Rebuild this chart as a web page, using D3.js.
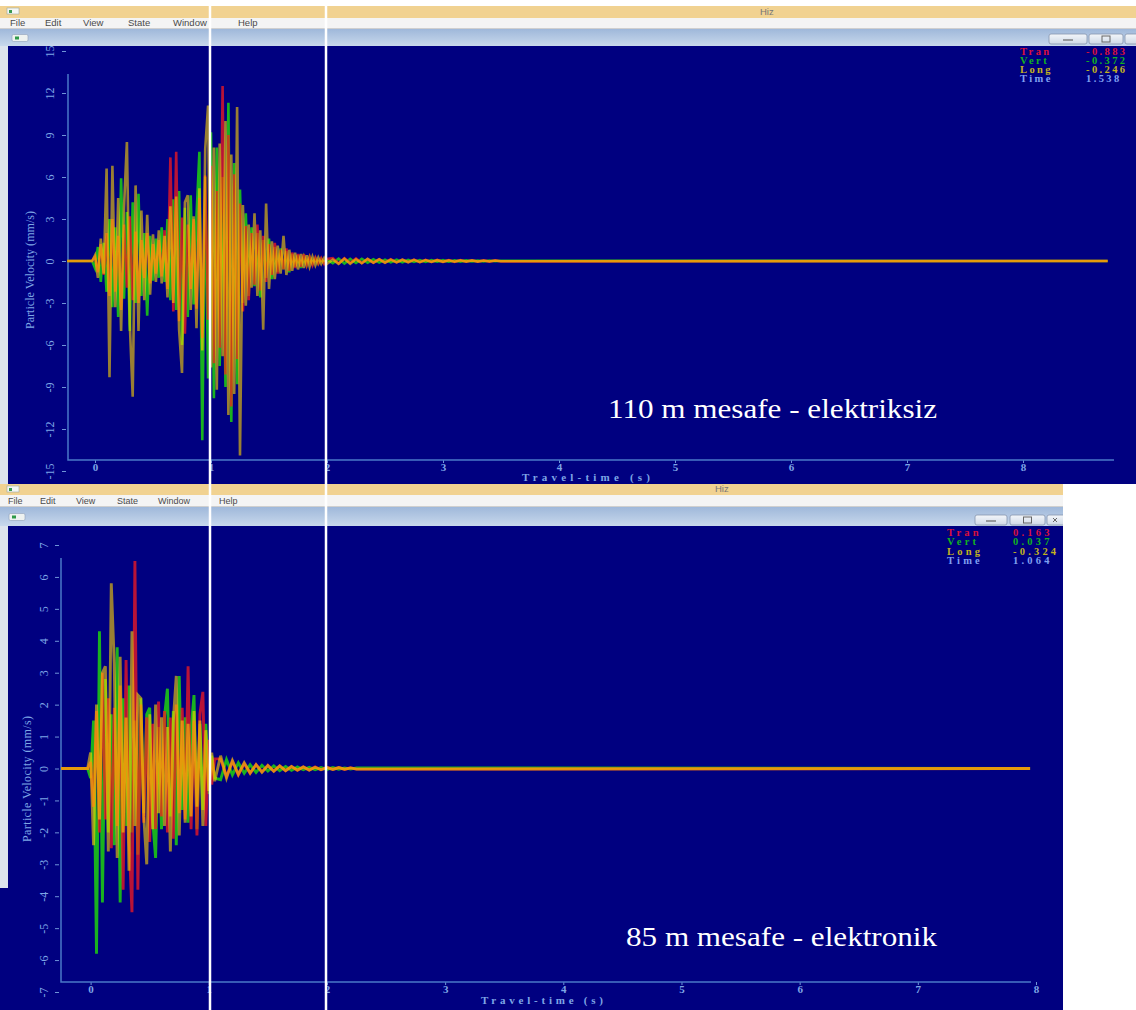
<!DOCTYPE html>
<html>
<head>
<meta charset="utf-8">
<script src="https://cdn.jsdelivr.net/npm/d3@7"></script>
<style>
body { margin: 0; background: #fff; overflow: hidden; }
svg { display: block; }
.axis text { font-family: "Liberation Serif", serif; font-size: 11px; fill: #7ea6e6; }
.axis .tick line { stroke: #6f95d8; }
.ylab text { font-size: 12px; }
.menu { font-family: "Liberation Sans", sans-serif; font-size: 9.5px; fill: #4a4a4a; }
.readout { font-family: "Liberation Serif", serif; font-size: 10.5px; font-weight: bold; }
.title { font-family: "Liberation Serif", serif; font-size: 11px; font-weight: bold; fill: #7ea6e6; }
</style>
</head>
<body>
<script>
// sampling of the recorder traces (s)
const dt = 0.025;
const dtTail = 0.05;

// ---- 110 m, no electric detonators (top window) ----
const topStart = -0.24, topEnd = 8.73;
const topTran = [0.3, -0.8, 1.2, -1.0, 2.0, -2.5, 3.0, -2.2, 1.8, -3.5,
    2.6, -1.9, 3.2, -2.8, 2.1, -3.0, 1.5, -1.2, 2.0, -1.6,
    1.2, -0.9, 1.5, -1.1, 2.2, -2.0, 7.4, -3.6, 7.8, -4.3,
    3.1, -5.2, 2.6, -2.0, 3.0, -3.4, 4.5, -5.5, 6.1, -4.2,
    6.8, -7.3, 5.0, -6.2, 12.5, -8.1, 9.0, -10.4, 6.2, -7.0,
    4.1, -3.6, 2.5, -2.8, 2.0, -1.7, 2.6, -2.1, 1.8, -1.5,
    1.2, -1.0, 1.3, -0.9, 0.8, -0.6, 0.9, -0.7, 0.6, -0.5,
    0.5, -0.4, 0.5, -0.3, 0.3, -0.3, 0.25, -0.2, 0.2, -0.2,
    0.15];
const topVert = [-0.5, 1.0, -1.5, 1.3, -2.2, 3.0, -3.3, 2.4, -4.0, 5.9,
    -2.7, 3.5, -5.0, 4.2, -3.0, 4.8, -2.5, 2.0, -3.9, 1.8,
    -1.4, 1.6, -1.2, 2.4, -1.5, 3.0, -2.8, 4.4, -3.5, 5.0,
    -6.0, 3.8, -4.0, 4.7, -3.1, 3.2, 7.8, -12.8, 6.0, -8.4,
    9.2, -9.8, 8.1, -7.5, 6.0, -9.0, 11.3, -11.5, 7.0, -8.8,
    5.1, -3.0, 3.4, -2.5, 2.4, -1.8, 2.0, -2.6, 1.5, -1.2,
    1.6, -1.3, 1.0, -0.8, 0.9, -0.6, 0.7, -0.8, 0.5, -0.4,
    0.4, -0.5, 0.3, -0.3, 0.3, -0.2, 0.2, -0.2, 0.15, -0.15,
    0.1];
const topLong = [0.4, -1.2, 1.6, -0.9, 6.6, -8.3, 6.8, -3.3, 4.5, -5.0,
    3.8, 8.5, -4.5, -9.7, 5.4, -5.0, 3.6, -2.8, 3.3, -2.4,
    1.9, -1.5, 2.2, -1.6, 1.8, -2.6, 3.9, -3.0, 4.6, -4.9,
    -8.0, 4.2, 4.7, -3.5, 3.2, -4.8, 5.2, -6.4, 8.0, 11.1,
    -7.6, 8.1, -9.2, 8.4, -6.8, 10.0, -11.0, 7.6, -9.5, 11.0,
    -13.9, 4.0, -3.2, 2.6, -1.9, 3.4, -2.5, 2.2, -4.9, 4.1,
    -2.0, 1.4, -1.3, 1.1, -0.9, 1.8, -1.0, 0.8, -0.7, 0.6,
    -0.6, 0.5, -0.5, 0.4, -0.4, 0.3, -0.3, 0.25, -0.2, 0.2,
    -0.2];
const topTranTail = [0.2, -0.18, 0.2, -0.15, 0.18, -0.15, 0.14, -0.12, 0.13, -0.1,
    0.12, -0.1, 0.1, -0.08, 0.1, -0.08, 0.08, -0.07, 0.08, -0.06,
    0.07, -0.06, 0.06, -0.05, 0.05, -0.05, 0.04, -0.04, 0.04, -0.03];
const topVertTail = [-0.15, 0.17, -0.18, 0.15, -0.14, 0.15, -0.12, 0.12, -0.11, 0.1,
    -0.1, 0.09, -0.09, 0.08, -0.07, 0.07, -0.07, 0.06, -0.05, 0.06,
    -0.05, 0.04, -0.04, 0.04, -0.03, 0.03, -0.03, 0.03, -0.02, 0.02];
const topLongTail = [0.1, -0.2, 0.16, -0.2, 0.12, -0.16, 0.15, -0.13, 0.12, -0.12,
    0.1, -0.1, 0.09, -0.09, 0.08, -0.08, 0.07, -0.07, 0.06, -0.06,
    0.05, -0.05, 0.05, -0.04, 0.04, -0.04, 0.03, -0.03, 0.03, -0.02];
const topTicksY = [15, 12, 9, 6, 3, 0, -3, -6, -9, -12, -15];
const topReadout = ["-0.883", "-0.372", "-0.246", "1.538"];

// ---- 85 m, electronic detonators (bottom window) ----
const botStart = -0.25, botEnd = 7.95;
const botTran = [0.2, -1.2, 1.8, -2.0, 3.0, -1.6, 2.2, -2.5, 1.9, -1.8,
    2.6, -3.8, 3.4, -2.2, -4.5, 6.5, -3.8, 2.0, -1.7, 1.6,
    -2.3, 1.4, -1.9, 2.1, -1.5, 1.8, -2.0, 1.6, -2.2, 2.0,
    -1.4, 1.9, -1.6, 3.2, -1.9, 1.5, -2.1, 1.7, 2.4, -1.8,
    0.9, -0.5, 0.3];
const botVert = [-0.3, 1.5, -5.8, 4.3, -4.2, 2.8, -2.0, 1.7, -2.4, 3.8,
    -4.2, 2.2, -1.8, 2.6, -2.0, 1.5, -2.7, 2.2, -1.4, 1.7,
    1.9, -1.6, -2.8, 1.3, -1.9, 1.6, 2.5, -1.5, 1.8, -2.4,
    2.9, -1.3, 1.6, -1.7, 1.2, 2.3, -1.9, 1.4, -1.3, 1.4,
    -0.8, 0.4, -0.3];
const botLong = [0.5, -2.4, 2.0, -1.6, 3.0, 3.2, -2.6, 5.8, 3.3, -2.8,
    3.5, -2.0, 1.6, -3.2, 4.3, -1.8, 2.3, 2.2, -1.5, -3.0,
    1.7, -1.9, 2.0, -1.4, 1.6, -1.8, 1.3, -2.6, 1.5, 2.9,
    -2.1, 1.5, -1.7, 1.4, -1.5, 1.8, -1.2, 1.5, -1.8, 1.2,
    -0.7, 0.5, -0.4];
const botTranTail = [0.3, -0.25, 0.22, -0.2, 0.15, -0.15, 0.12, -0.1, 0.1, -0.08,
    0.08, -0.07, 0.06, -0.06, 0.05, -0.05, 0.05, -0.04, 0.04, -0.03,
    0.03, -0.03, 0.02, -0.02];
const botVertTail = [-0.35, 0.28, -0.2, 0.18, -0.15, 0.12, -0.12, 0.1, -0.08, 0.08,
    -0.07, 0.06, -0.06, 0.05, -0.04, 0.04, -0.04, 0.03, -0.03, 0.03,
    -0.02, 0.02, -0.02, 0.02];
const botLongTail = [0.4, -0.3, 0.25, -0.18, 0.18, -0.14, 0.12, -0.12, 0.09, -0.09,
    0.08, -0.07, 0.06, -0.05, 0.05, -0.05, 0.04, -0.04, 0.03, -0.03,
    0.03, -0.02, 0.02, -0.02];
const botTicksY = [7, 6, 5, 4, 3, 2, 1, 0, -1, -2, -3, -4, -5, -6, -7];
const botReadout = ["0.163", "0.037", "-0.324", "1.064"];

const ticksX = [0, 1, 2, 3, 4, 5, 6, 7, 8];
const channels = ["Tran", "Vert", "Long", "Time"];
const menuItems = ["File", "Edit", "View", "State", "Window", "Help"];
const guideTimes = [1, 2];

const traceColors = ["#ff1a1a", "#22ee00", "#ffd400"];
const traceOrder = [1, 0, 2];   // Vert underneath, then Tran, Long on top
const traceOpacity = [0.72, 0.75, 0.6];
const readoutColors = ["#d8103c", "#12b21e", "#c3b21c", "#7f9ff0"];

const width = 1136, height = 1010;
const navy = "#000080";

const svg = d3.select("body").append("svg")
    .attr("width", width)
    .attr("height", height);

const defs = svg.append("defs");
let bar = defs.append("linearGradient").attr("id", "toolbar")
    .attr("x1", 0).attr("y1", 0).attr("x2", 0).attr("y2", 1);
bar.append("stop").attr("offset", "0%").attr("stop-color", "#9fb8da");
bar.append("stop").attr("offset", "100%").attr("stop-color", "#c8d8ec");
let btn = defs.append("linearGradient").attr("id", "btn")
    .attr("x1", 0).attr("y1", 0).attr("x2", 0).attr("y2", 1);
btn.append("stop").attr("offset", "0%").attr("stop-color", "#f3f6fa");
btn.append("stop").attr("offset", "100%").attr("stop-color", "#cfd9e6");
defs.append("clipPath").attr("id", "clipTop")
    .append("rect").attr("x", 0).attr("y", 0).attr("width", 1136).attr("height", 484);
defs.append("clipPath").attr("id", "clipBot")
    .append("rect").attr("x", 0).attr("y", 484).attr("width", 1063).attr("height", 526);

function buildSeries(active, tail, start, end) {
    // quiet baseline before the onset, then the record, then the flat end
    let pts = [{t: start, v: 0}, {t: -dt, v: 0}];
    active.forEach((v, i) => pts.push({t: i * dt, v: v}));
    let t0 = (active.length - 1) * dt;
    tail.forEach((v, i) => pts.push({t: t0 + (i + 1) * dtTail, v: v}));
    pts.push({t: end, v: 0});
    return pts;
}

function drawWindow(g, w) {
    g.append("rect").attr("x", 0).attr("y", w.y).attr("width", w.right).attr("height", w.titleH)
        .attr("fill", "#f1d291");
    g.append("rect").attr("x", 7).attr("y", w.y + 2).attr("width", 12).attr("height", 6)
        .attr("fill", "#f4f7f4").attr("stroke", "#9aa9a0").attr("stroke-width", 0.6);
    g.append("rect").attr("x", 9).attr("y", w.y + 4).attr("width", 3).attr("height", 3).attr("fill", "#3a9a50");
    g.append("text").attr("x", w.titleX).attr("y", w.y + w.titleH - 3)
        .attr("class", "menu").style("fill", "#777").text("Hiz");

    let my = w.y + w.titleH;
    g.append("rect").attr("x", 0).attr("y", my).attr("width", w.right).attr("height", w.menuH)
        .attr("fill", "#f4f4f4");
    g.append("line").attr("x1", 0).attr("x2", w.right).attr("y1", my + w.menuH - 0.5).attr("y2", my + w.menuH - 0.5)
        .attr("stroke", "#cfcfcf");
    g.selectAll(null).data(menuItems).enter().append("text")
        .attr("class", "menu")
        .attr("x", (d, i) => w.menuX[i])
        .attr("y", my + w.menuH - 3)
        .style("font-size", w.menuFont + "px")
        .text(d => d);

    let by = my + w.menuH;
    g.append("rect").attr("x", 0).attr("y", by).attr("width", w.right).attr("height", w.barH)
        .attr("fill", "url(#toolbar)");
    g.append("rect").attr("x", w.iconX).attr("y", by + w.barH / 2 - 3).attr("width", 16).attr("height", 7).attr("rx", 1.5)
        .attr("fill", "#eef2f0").attr("stroke", "#8ea0b8").attr("stroke-width", 0.6);
    g.append("rect").attr("x", w.iconX + 3).attr("y", by + w.barH / 2 - 1).attr("width", 4).attr("height", 3)
        .attr("fill", "#2f9a48");
    w.buttons.forEach((b, i) => {
        g.append("rect").attr("x", b[0]).attr("y", w.btnY).attr("width", b[1]).attr("height", 10).attr("rx", 2)
            .attr("fill", "url(#btn)").attr("stroke", "#8796ad").attr("stroke-width", 0.8);
        let cx = b[0] + b[1] / 2, cy = w.btnY + 5;
        if (i === 0) {
            g.append("line").attr("x1", cx - 5).attr("x2", cx + 5).attr("y1", cy + 1).attr("y2", cy + 1)
                .attr("stroke", "#666").attr("stroke-width", 1.2);
        } else if (i === 1) {
            g.append("rect").attr("x", cx - 4).attr("y", cy - 3).attr("width", 8).attr("height", 6)
                .attr("fill", "none").attr("stroke", "#666").attr("stroke-width", 1);
        } else if (w.closeMark) {
            g.append("path")
                .attr("d", "M" + (b[0] + 6) + "," + (cy - 2) + "l4,4m0,-4l-4,4")
                .attr("stroke", "#666").attr("stroke-width", 1);
        }
    });

    let ny = by + w.barH;
    g.append("rect").attr("x", 0).attr("y", ny).attr("width", 8).attr("height", w.stripBottom - ny)
        .attr("fill", "#dce3ed");
    g.append("rect").attr("x", 8).attr("y", ny).attr("width", w.right - 8).attr("height", w.bottom - ny)
        .attr("fill", navy);
    if (w.stripBottom < w.bottom) {
        g.append("rect").attr("x", 0).attr("y", w.stripBottom).attr("width", 8).attr("height", w.bottom - w.stripBottom)
            .attr("fill", navy);
    }
}

function drawPlot(g, p) {
    let x = d3.scaleLinear().domain([0, 8]).range(p.xRange);
    let y = d3.scaleLinear().domain([p.yTicks[p.yTicks.length - 1], p.yTicks[0]]).range(p.yRange);

    let xAxis = d3.axisBottom(x).tickValues(ticksX).tickSize(3).tickPadding(0)
        .tickFormat(d => String(d));
    let yAxis = d3.axisLeft(y).tickValues(p.yTicks).tickSize(4)
        .tickFormat(d => String(d));

    let gx = g.append("g").attr("class", "axis")
        .attr("transform", "translate(0," + p.axisY + ")")
        .call(xAxis);
    gx.select(".domain").remove();
    gx.selectAll("text").style("font-weight", "bold");

    let gy = g.append("g").attr("class", "axis ylab")
        .attr("transform", "translate(" + p.tickX + ",0)")
        .call(yAxis);
    gy.select(".domain").remove();
    gy.selectAll("text")
        .attr("transform", "rotate(-90)")
        .attr("x", 0)
        .attr("y", -p.labelGap)
        .attr("dy", null)
        .attr("text-anchor", "middle");

    g.append("path")
        .attr("d", "M" + p.axisX + "," + p.axisTop + "V" + p.axisY + "H" + p.axisRight)
        .attr("fill", "none")
        .attr("stroke", "#4a78c8")
        .attr("stroke-width", 1.5);

    g.append("text").attr("class", "title")
        .attr("x", p.xTitle[0]).attr("y", p.xTitle[1])
        .attr("text-anchor", "middle")
        .attr("textLength", p.xTitle[2]).attr("lengthAdjust", "spacing")
        .text("Travel-time (s)");
    g.append("text").attr("class", "title")
        .attr("transform", "translate(" + p.yTitle[0] + "," + p.yTitle[1] + ") rotate(-90)")
        .attr("text-anchor", "middle")
        .attr("textLength", p.yTitle[2]).attr("lengthAdjust", "spacing")
        .style("font-weight", "normal").style("font-size", "12px")
        .text("Particle Velocity (mm/s)");

    let line = d3.line()
        .x(d => x(d.t))
        .y(d => y(d.v));
    traceOrder.forEach(i => {
        let s = p.traces[i];
        g.append("path")
            .datum(buildSeries(s[0], s[1], p.start, p.end))
            .attr("fill", "none")
            .attr("stroke", traceColors[i])
            .attr("stroke-opacity", traceOpacity[i])
            .attr("stroke-width", p.traceWidth)
            .attr("d", line);
    });

    channels.forEach((c, i) => {
        g.append("text").attr("class", "readout")
            .attr("x", p.readoutX[0]).attr("y", p.readoutY[i])
            .style("letter-spacing", p.readoutSpacing + "px")
            .attr("fill", readoutColors[i]).text(c);
        g.append("text").attr("class", "readout")
            .attr("x", p.readoutX[1]).attr("y", p.readoutY[i])
            .style("letter-spacing", p.readoutSpacing + "px")
            .attr("fill", readoutColors[i]).text(p.readout[i]);
    });

    g.append("text")
        .attr("x", p.note[0]).attr("y", p.note[1])
        .attr("textLength", p.note[2]).attr("lengthAdjust", "spacingAndGlyphs")
        .style("font-family", "Liberation Serif, serif").style("font-size", "28px").style("fill", "#fff")
        .text(p.noteText);
    return x;
}

// top window
let gTop = svg.append("g").attr("clip-path", "url(#clipTop)");
drawWindow(gTop, {
    y: 6, titleH: 12, menuH: 11, barH: 17, right: 1136, bottom: 484, stripBottom: 484,
    titleX: 760, menuX: [10, 45, 83, 128, 173, 238], menuFont: 9.5, iconX: 12,
    buttons: [[1049, 38], [1089, 34], [1125, 30]], btnY: 34, closeMark: false
});
let xTop = drawPlot(gTop, {
    xRange: [95, 1023], yRange: [471, 51], yTicks: topTicksY,
    axisX: 68, axisTop: 74, axisY: 460, axisRight: 1114, tickX: 66, labelGap: 12,
    xTitle: [586, 481, 128], yTitle: [34, 270, 118],
    start: topStart, end: topEnd, traceWidth: 2.6,
    traces: [[topTran, topTranTail], [topVert, topVertTail], [topLong, topLongTail]],
    readout: topReadout, readoutX: [1020, 1086], readoutY: [55, 64, 73, 82], readoutSpacing: 2.4,
    note: [608, 418, 329], noteText: "110 m mesafe - elektriksiz"
});

// bottom window
let gBot = svg.append("g").attr("clip-path", "url(#clipBot)");
drawWindow(gBot, {
    y: 484, titleH: 11, menuH: 12, barH: 19, right: 1063, bottom: 1010, stripBottom: 888,
    titleX: 715, menuX: [8, 40, 76, 117, 158, 219], menuFont: 9, iconX: 9,
    buttons: [[975, 32], [1010, 35], [1047, 30]], btnY: 515, closeMark: true
});
drawPlot(gBot, {
    xRange: [90.6, 1036], yRange: [992, 545], yTicks: botTicksY,
    axisX: 61, axisTop: 558, axisY: 982, axisRight: 1031, tickX: 59, labelGap: 11,
    xTitle: [542, 1004, 122], yTitle: [31, 779, 126],
    start: botStart, end: botEnd, traceWidth: 2.9,
    traces: [[botTran, botTranTail], [botVert, botVertTail], [botLong, botLongTail]],
    readout: botReadout, readoutX: [947, 1013], readoutY: [536, 545, 555, 564], readoutSpacing: 3.2,
    note: [626, 946, 311], noteText: "85 m mesafe - elektronik"
});

// white guide lines across both screenshots
svg.selectAll(".guide").data(guideTimes).enter().append("line")
    .attr("class", "guide")
    .attr("x1", d => xTop(d) - 1).attr("x2", d => xTop(d) - 1)
    .attr("y1", 6).attr("y2", height)
    .attr("stroke", "#fff")
    .attr("stroke-width", 2.5);
</script>
</body>
</html>
